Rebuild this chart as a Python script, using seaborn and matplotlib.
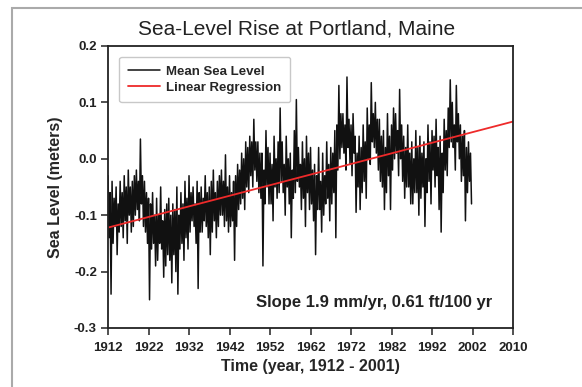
import numpy as np
import pandas as pd
import matplotlib
matplotlib.use("Agg")
import matplotlib.pyplot as plt
import seaborn as sns
from matplotlib.patches import Rectangle

# ===============================
# DATA (4 readings per year)
# ===============================
years = list(range(1912, 2002))
sea_level_by_year = [
    [-0.03, -0.14, -0.06, -0.24],   # 1912
    [-0.04, -0.15, -0.07, -0.12],
    [-0.05, -0.17, -0.08, -0.13],
    [-0.04, -0.12, -0.06, -0.14],
    [-0.03, -0.11, -0.05, -0.15],
    [-0.02, -0.10, -0.05, -0.13],
    [-0.04, -0.12, -0.03, -0.10],
    [-0.02, -0.09, -0.04, -0.11],
    [0.035, -0.08, -0.03, -0.12],   # 1920
    [-0.04, -0.13, -0.06, -0.15],
    [-0.07, -0.25, -0.08, -0.16],
    [-0.06, -0.15, -0.10, -0.19],
    [-0.07, -0.18, -0.10, -0.15],
    [-0.05, -0.16, -0.11, -0.21],
    [-0.09, -0.19, -0.08, -0.17],
    [-0.07, -0.18, -0.10, -0.22],
    [-0.08, -0.17, -0.09, -0.20],
    [-0.05, -0.24, -0.10, -0.16],
    [-0.06, -0.15, -0.08, -0.18],   # 1930
    [-0.04, -0.14, -0.07, -0.16],
    [-0.03, -0.13, -0.06, -0.11],
    [-0.05, -0.12, -0.08, -0.15],
    [-0.04, -0.23, -0.06, -0.13],
    [-0.05, -0.13, -0.07, -0.11],
    [-0.03, -0.12, -0.06, -0.14],
    [-0.05, -0.17, -0.04, -0.13],
    [-0.02, -0.11, -0.06, -0.14],
    [-0.04, -0.12, -0.03, -0.10],
    [-0.02, -0.10, -0.04, -0.12],   # 1940
    [0.007, -0.11, -0.05, -0.13],
    [-0.03, -0.12, -0.06, -0.11],
    [-0.04, -0.18, -0.03, -0.12],
    [-0.01, -0.09, -0.02, -0.08],
    [0.01, -0.07, 0.00, -0.09],
    [0.03, -0.05, 0.02, -0.06],
    [0.04, -0.03, 0.03, -0.05],
    [0.07, -0.02, 0.03, -0.04],
    [0.03, -0.06, 0.01, -0.07],
    [0.01, -0.19, -0.02, -0.08],    # 1950
    [0.05, -0.05, 0.02, -0.08],
    [0.01, -0.08, -0.01, -0.11],
    [0.04, -0.05, 0.00, -0.07],
    [0.03, -0.06, 0.09, -0.04],
    [0.03, -0.06, -0.01, -0.10],
    [0.04, -0.05, 0.00, -0.08],
    [0.01, -0.14, -0.02, -0.07],
    [0.05, -0.06, 0.105, -0.04],
    [0.02, -0.05, -0.01, -0.09],
    [0.03, -0.07, 0.00, -0.12],     # 1960
    [0.04, -0.06, 0.01, -0.09],
    [0.02, -0.08, -0.02, -0.11],
    [-0.01, -0.17, -0.03, -0.09],
    [0.02, -0.09, -0.04, -0.13],
    [0.01, -0.10, -0.03, -0.08],
    [0.03, -0.07, -0.01, -0.11],
    [0.02, -0.08, 0.01, -0.06],
    [0.05, -0.14, 0.06, -0.02],
    [0.13, 0.00, 0.08, 0.02],
    [0.08, 0.01, 0.06, -0.02],      # 1970
    [0.145, 0.02, 0.07, -0.01],
    [0.06, -0.03, 0.08, 0.01],
    [0.04, -0.095, 0.01, -0.05],
    [0.04, -0.09, 0.02, -0.06],
    [0.06, -0.04, 0.03, -0.07],
    [0.09, 0.00, 0.06, -0.01],
    [0.135, 0.03, 0.08, 0.02],
    [0.10, 0.01, 0.07, -0.02],
    [0.07, -0.04, 0.04, -0.05],
    [0.05, -0.09, 0.02, -0.06],     # 1980
    [0.08, -0.03, 0.04, -0.09],
    [0.06, -0.02, 0.09, 0.00],
    [0.08, 0.01, 0.05, -0.03],
    [0.123, 0.00, 0.06, -0.04],
    [0.04, -0.07, 0.02, -0.05],
    [0.06, -0.05, 0.01, -0.08],
    [0.03, -0.08, 0.00, -0.06],
    [0.05, -0.06, 0.02, -0.10],
    [0.04, -0.07, 0.01, -0.05],
    [0.03, -0.12, 0.00, -0.06],     # 1990
    [0.06, -0.04, 0.03, -0.08],
    [0.05, -0.02, 0.04, -0.05],
    [0.07, -0.03, 0.02, -0.09],
    [0.04, -0.13, 0.01, -0.06],
    [0.07, -0.02, 0.05, -0.03],
    [0.09, 0.02, 0.14, 0.03],
    [0.10, 0.02, 0.06, -0.02],
    [0.13, 0.03, 0.08, 0.00],
    [0.06, -0.04, 0.04, -0.03],
    [0.05, -0.11, 0.02, -0.06],     # 2000
    [0.03, -0.04, 0.01, -0.08],
]

# regression line end points
reg_years = [1912, 2012]
reg_values = [-0.122, 0.066]

x_ticks = [1912, 1922, 1932, 1942, 1952, 1962, 1972, 1982, 1992, 2002, 2012]
x_tick_labels = ["1912", "1922", "1932", "1942", "1952", "1962", "1972",
                 "1982", "1992", "2002", "2010"]
y_ticks = [0.2, 0.1, 0.0, -0.1, -0.2, -0.3]
y_tick_labels = ["0.2", "0.1", "0.0", "-0.1", "-0.2", "-0.3"]

# ===============================
# TABLE
# ===============================
rows = []
for yr, vals in zip(years, sea_level_by_year):
    for k, v in enumerate(vals):
        rows.append({"time": yr + k * 0.25, "level": v})
df = pd.DataFrame(rows)
df_reg = pd.DataFrame({"time": reg_years, "level": reg_values})

# ===============================
# PLOT
# ===============================
sns.set_style("white")
plt.rcParams["font.family"] = ["Liberation Sans", "DejaVu Sans"]

fig = plt.figure(figsize=(5.82, 3.87), dpi=100)
ax = fig.add_axes([0.1856, 0.1525, 0.6959, 0.7287])

sns.lineplot(data=df, x="time", y="level", ax=ax, color="#111111",
             linewidth=1.1, label="Mean Sea Level", estimator=None)
sns.lineplot(data=df_reg, x="time", y="level", ax=ax, color="#ee2a2a",
             linewidth=1.3, label="Linear Regression", estimator=None)

ax.set_xlim(1912, 2012)
ax.set_ylim(-0.3, 0.2)
ax.set_xticks(x_ticks)
ax.set_xticklabels(x_tick_labels, fontsize=9.5, fontweight="bold")
ax.set_yticks(y_ticks)
ax.set_yticklabels(y_tick_labels, fontsize=9.5, fontweight="bold")
ax.tick_params(axis="both", direction="out", length=5, width=1.1,
               bottom=True, left=True, colors="#222222")
ax.tick_params(axis="x", pad=5)
ax.tick_params(axis="y", pad=3)
for sp in ax.spines.values():
    sp.set_color("#222222")
    sp.set_linewidth(1.3)

ax.set_xlabel("Time (year, 1912 - 2001)", fontsize=11.5, fontweight="bold",
              labelpad=4)
ax.set_ylabel("Sea Level (meters)", fontsize=11.5, fontweight="bold",
              labelpad=8)

ax.text(2006.8, -0.255, "Slope 1.9 mm/yr, 0.61 ft/100 yr", ha="right",
        va="center", fontsize=12, fontweight="bold", color="#222222")

leg = ax.legend(loc="upper left", bbox_to_anchor=(0.012, 0.985),
                prop={"size": 9.5, "weight": "bold"}, frameon=True,
                handlelength=2.4, borderpad=0.65, labelspacing=0.3,
                handletextpad=0.5, fancybox=True)
leg.get_frame().set_edgecolor("#bbbbbb")
leg.get_frame().set_linewidth(1.0)

fig.text(0.51, 0.925, "Sea-Level Rise at Portland, Maine", ha="center",
         va="center", fontsize=15, color="#222222")

# outer frame of the figure
fig.patches.append(Rectangle((0.02, -0.05), 1.2, 1.03, transform=fig.transFigure,
                             fill=False, edgecolor="#aaaaaa", linewidth=1.5))

fig.savefig("out.png", dpi=100)
